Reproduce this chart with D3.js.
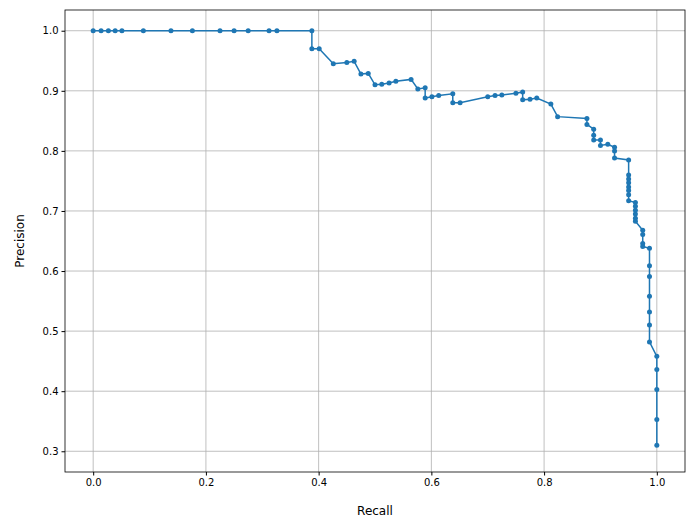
<!DOCTYPE html>
<html><head><meta charset="utf-8">
<script src="https://cdn.jsdelivr.net/npm/d3@7"></script>
<style>body{margin:0;background:#fff;font-family:"DejaVu Sans",sans-serif}</style>
</head><body><div id="chart"></div>
<script>
const recall = [0, .014, .027, .039, .051, .089, .138, .176, .225, .25, .275, .312, .326, .388,
  .388, .401, .426, .45, .463, .475, .488, .5, .512, .525, .537, .564, .576, .589, .589, .601, .613, .638, .638, .651,
  .7, .713, .725, .75, .762, .762, .775, .787, .812, .824, .876, .876, .888, .888, .888, .9, .9, .913, .925, .925, .925,
  .95, .95, .95, .95, .95, .95, .95, .95,
  .962, .962, .962, .962, .962, .962,
  .975, .975, .975, .975,
  .987, .987, .987, .987, .987, .987, .987,
  1, 1, 1, 1, 1];
const precision = [1, 1, 1, 1, 1, 1, 1, 1, 1, 1, 1, 1, 1, 1,
  .97, .97, .945, .947, .949, .928, .929, .91, .911, .913, .916, .919, .903, .905, .888, .89, .892, .895, .88, .88,
  .89, .892, .893, .896, .898, .885, .886, .888, .878, .857, .854, .844, .836, .826, .818, .818, .809, .811, .806, .8, .788,
  .785, .76, .753, .747, .74, .734, .727, .717,
  .714, .708, .701, .695, .688, .683,
  .668, .661, .646, .641,
  .638, .609, .591, .558, .532, .51, .482,
  .458, .436, .403, .353, .31];
const xTicks = [0, .2, .4, .6, .8, 1];
const yTicks = [.3, .4, .5, .6, .7, .8, .9, 1];

const W = 695, H = 529;
const margin = { top: 10, right: 10, bottom: 57, left: 65 };
const svg = d3.select('#chart').append('svg').attr('width', W).attr('height', H);
const x = d3.scaleLinear().domain([-0.05, 1.05]).range([margin.left, W - margin.right]);
const y = d3.scaleLinear().domain([0.2655, 1.0345]).range([H - margin.bottom, margin.top]);

svg.append('g').selectAll('line').data(xTicks).join('line')
  .attr('x1', d => x(d)).attr('x2', d => x(d)).attr('y1', margin.top).attr('y2', H - margin.bottom)
  .attr('stroke', '#b0b0b0').attr('stroke-width', 0.8);
svg.append('g').selectAll('line').data(yTicks).join('line')
  .attr('y1', d => y(d)).attr('y2', d => y(d)).attr('x1', margin.left).attr('x2', W - margin.right)
  .attr('stroke', '#b0b0b0').attr('stroke-width', 0.8);

const xa = svg.append('g').attr('transform', `translate(0,${H - margin.bottom})`)
  .call(d3.axisBottom(x).tickValues(xTicks).tickFormat(d3.format('.1f')).tickSize(3.5).tickSizeOuter(0));
const ya = svg.append('g').attr('transform', `translate(${margin.left},0)`)
  .call(d3.axisLeft(y).tickValues(yTicks).tickFormat(d3.format('.1f')).tickSize(3.5).tickSizeOuter(0));
[xa, ya].forEach(a => { a.selectAll('text').attr('font-size', 10).attr('fill', '#000').attr('font-family', 'DejaVu Sans'); a.select('.domain').remove(); });

svg.append('rect').attr('x', margin.left).attr('y', margin.top)
  .attr('width', W - margin.left - margin.right).attr('height', H - margin.top - margin.bottom)
  .attr('fill', 'none').attr('stroke', '#000').attr('stroke-width', 0.8);

const pts = recall.map((r, i) => [r, precision[i]]);
svg.append('path').datum(pts).attr('fill', 'none').attr('stroke', '#1f77b4').attr('stroke-width', 1.5)
  .attr('d', d3.line().x(d => x(d[0])).y(d => y(d[1])));
svg.append('g').selectAll('circle').data(pts).join('circle')
  .attr('cx', d => x(d[0])).attr('cy', d => y(d[1])).attr('r', 2.5).attr('fill', '#1f77b4');

svg.append('text').attr('x', (margin.left + W - margin.right) / 2).attr('y', 515)
  .attr('text-anchor', 'middle').attr('font-size', 12).text('Recall');
svg.append('text').attr('transform', `translate(24,${(margin.top + H - margin.bottom) / 2}) rotate(-90)`)
  .attr('text-anchor', 'middle').attr('font-size', 12).text('Precision');
</script></body></html>
